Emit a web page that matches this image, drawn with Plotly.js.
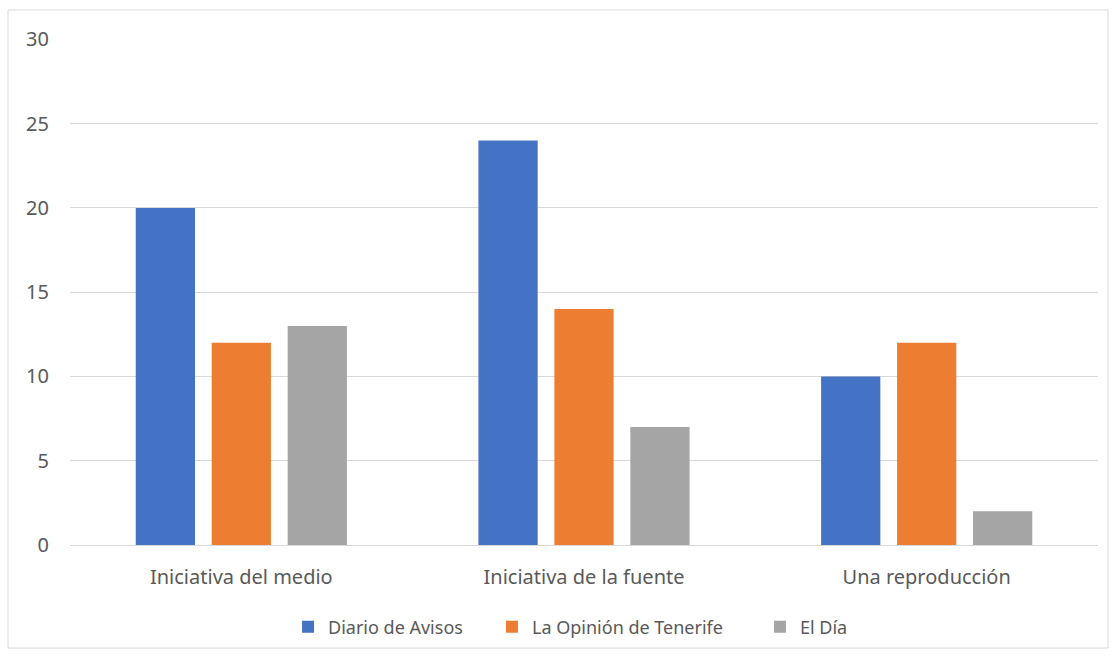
<!DOCTYPE html>
<html>
<head>
<meta charset="utf-8">
<script src="https://cdn.plot.ly/plotly-3.0.1.min.js"></script>
<style>html,body{margin:0;padding:0;background:#fff;}#chart{width:1115px;height:656px;}</style>
</head>
<body>
<div id="chart"></div>
<script>
const categories = ["Iniciativa del medio", "Iniciativa de la fuente", "Una reproducción"];
const seriesNames = ["Diario de Avisos", "La Opinión de Tenerife", "El Día"];
const diarioDeAvisos = [20, 24, 10];
const laOpinion = [12, 14, 12];
const elDia = [13, 7, 2];
const yTicks = [0, 5, 10, 15, 20, 25, 30];

const colors = ["#4472C4", "#ED7D31", "#A5A5A5"];
const legendIds = ["legend", "legend2", "legend3"];
const legendX = [0.2121, 0.4105, 0.6712];
const values = [diarioDeAvisos, laOpinion, elDia];
const traces = values.map((v, i) => ({
  type: "bar", x: categories, y: v, name: seriesNames[i],
  marker: {color: colors[i]}, hoverinfo: "skip", legend: legendIds[i]
}));

const font = {family: "'Noto Sans', 'Open Sans', sans-serif", size: 20, color: "#595959"};
const legFont = {family: "'Noto Sans', 'Open Sans', sans-serif", size: 18, color: "#595959"};
const layout = {
  width: 1115, height: 656,
  margin: {l: 70, r: 17, t: 39, b: 111, autoexpand: false},
  paper_bgcolor: "#fff", plot_bgcolor: "#fff",
  font: font,
  barmode: "group", bargap: 0.335, bargroupgap: 0.22,
  showlegend: true,
  xaxis: {showgrid: false, showline: true, linecolor: "#D9D9D9", linewidth: 1, automargin: false,
          ticks: "", ticklabelstandoff: 14, tickfont: font, zeroline: false, fixedrange: true},
  yaxis: {range: [0, 30.02], tickvals: yTicks, showgrid: true, gridcolor: "#D9D9D9", gridwidth: 1, automargin: false,
          showline: false, zeroline: false, ticks: "", ticklabelstandoff: 20, tickfont: font, fixedrange: true},
  shapes: [{type: "rect", xref: "paper", yref: "paper", x0: -0.0603, x1: 1.0097, y0: -0.2036, y1: 1.0573,
            line: {color: "#D9D9D9", width: 1}, fillcolor: "rgba(0,0,0,0)", layer: "below"}]
};
legendIds.forEach((id, i) => {
  layout[id] = {orientation: "h", x: legendX[i], xanchor: "left", y: -0.162, yanchor: "middle",
                font: legFont, bgcolor: "rgba(0,0,0,0)"};
});
Plotly.newPlot("chart", traces, layout, {displayModeBar: false, staticPlot: true});
</script>
</body>
</html>
